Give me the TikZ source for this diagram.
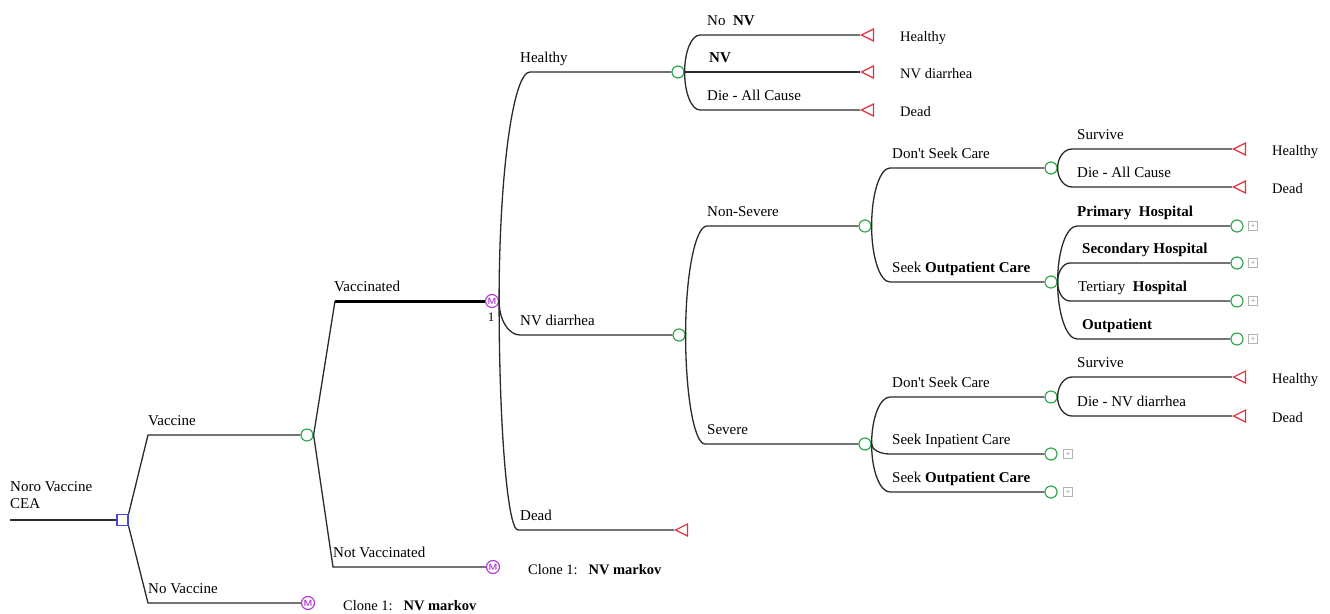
\documentclass[tikz,border=0pt]{standalone}
\usepackage{fontspec}
\setmainfont{Liberation Serif}
\usetikzlibrary{calc,shapes.geometric}
\definecolor{cgreen}{HTML}{35A84F}
\definecolor{cred}{HTML}{E5303C}
\definecolor{cpurple}{HTML}{B040D0}
\definecolor{cblue}{HTML}{4A4ACF}
\definecolor{cline}{HTML}{2A2A2A}
\tikzset{
 br/.style={draw=cline, line width=1.3pt},
 brthick/.style={draw=black, line width=3pt},
 chance/.style={circle, draw=cgreen, line width=1.2pt, fill=white, minimum size=12pt, inner sep=0pt},
 term/.style={isosceles triangle, shape border rotate=180, isosceles triangle stretches, draw=cred, line width=1.2pt, fill=white, minimum width=12pt, minimum height=12pt, inner sep=0pt},
 markov/.style={circle, draw=cpurple, line width=1.2pt, fill=white, minimum size=13pt, inner sep=0pt, text=cpurple, font=\sffamily\bfseries\fontsize{9}{9}\selectfont},
 decision/.style={rectangle, draw=cblue, line width=1.2pt, fill=white, minimum size=11pt, inner sep=0pt},
 plusbox/.style={rectangle, draw=gray!60, line width=0.7pt, minimum size=9pt, inner sep=0pt, text=gray, font=\fontsize{8}{8}\selectfont},
 lbl/.style={anchor=base west, inner sep=0pt, font=\fontsize{15}{18}\selectfont, text=black},
 tlbl/.style={anchor=base west, inner sep=0pt, font=\fontsize{14.5}{17}\selectfont, text=black},
}
\newcommand{\cbranch}[3]{\draw[br] let \p1=(#1), \p2=(#2) in (\p1) .. controls (\x1,{\y1+0.552*(\y2-\y1)}) and ({\x2-0.552*(\x2-\x1)},\y2) .. (\p2) -- (#3);}
\begin{document}
\begin{tikzpicture}[x=1pt,y=-1pt]
\useasboundingbox (0,0) rectangle (1330,613);
% ---------- nodes
\node[decision] (root) at (122.5,520) {};
\node[chance] (vc) at (307,435) {};
\node[markov] (m0) at (308,603) {M};
\node[markov] (mk) at (492,301) {M};
\node[markov] (m1) at (493,567) {M};
\node[chance] (hc) at (678,72) {};
\node[chance] (dc) at (679,335) {};
\node[term,anchor=apex] (tdead) at (674,530) {};
\node[term,anchor=apex] (th1) at (860,35) {};
\node[term,anchor=apex] (th2) at (860,72) {};
\node[term,anchor=apex] (th3) at (860,110) {};
\node[chance] (ns) at (865,226) {};
\node[chance] (sv) at (865,444) {};
\node[chance] (nsd) at (1051,168) {};
\node[chance] (nso) at (1051,282) {};
\node[term,anchor=apex] (ta1) at (1232,149) {};
\node[term,anchor=apex] (ta2) at (1232,187) {};
\node[chance] (h1) at (1237,226) {};
\node[chance] (h2) at (1237,263) {};
\node[chance] (h3) at (1237,301) {};
\node[chance] (h4) at (1237,339) {};
\node[plusbox] (p1) at (1253,226) {+};
\node[plusbox] (p2) at (1253,263) {+};
\node[plusbox] (p3) at (1253,301) {+};
\node[plusbox] (p4) at (1253,339) {+};
\node[chance] (svd) at (1051,397) {};
\node[chance] (svi) at (1051,454) {};
\node[chance] (svo) at (1051,492) {};
\node[plusbox] (p5) at (1068,454) {+};
\node[plusbox] (p6) at (1068,492) {+};
\node[term,anchor=apex] (tb1) at (1232,377) {};
\node[term,anchor=apex] (tb2) at (1232,416) {};
% ---------- bend coordinates
\coordinate (s0) at (10,520);
\coordinate (bv) at (148,435);
\coordinate (bnv) at (148,603);
\coordinate (bvd) at (335,301);
\coordinate (bnvd) at (333,567);
\coordinate (bh) at (530,72);
\coordinate (bd) at (520,335);
\coordinate (bdead) at (518,530);
\coordinate (bh1) at (700,35);
\coordinate (bh3) at (700,110);
\coordinate (bns) at (707,226);
\coordinate (bsv) at (705,444);
\coordinate (bnsd) at (890,168);
\coordinate (bnso) at (890,282);
\coordinate (ba1) at (1072,149);
\coordinate (ba2) at (1072,187);
\coordinate (bh1h) at (1077,226);
\coordinate (bh2h) at (1070,263);
\coordinate (bh3h) at (1070,301);
\coordinate (bh4h) at (1077,339);
\coordinate (bsvd) at (890,397);
\coordinate (bsvi) at (890,454);
\coordinate (bsvo) at (890,492);
\coordinate (bb1) at (1072,377);
\coordinate (bb2) at (1072,416);
% ---------- connectors
\draw[br] (s0) -- (root.west);
\draw[br] (root.north east) -- (bv) -- (vc.west);
\draw[br] (root.south east) -- (bnv) -- (m0.west);
\draw[br] (vc.east) -- (bvd);
\draw[brthick] (bvd) -- (mk.west);
\draw[br] (vc.east) -- (bnvd) -- (m1.west);
\cbranch{mk.east}{bh}{hc.west}
\cbranch{mk.east}{bd}{dc.west}
\cbranch{mk.east}{bdead}{tdead.apex}
\cbranch{hc.east}{bh1}{th1.apex}
\draw[br] (hc.east) -- (th2.apex);
\cbranch{hc.east}{bh3}{th3.apex}
\cbranch{dc.east}{bns}{ns.west}
\cbranch{dc.east}{bsv}{sv.west}
\cbranch{ns.east}{bnsd}{nsd.west}
\cbranch{ns.east}{bnso}{nso.west}
\cbranch{nsd.east}{ba1}{ta1.apex}
\cbranch{nsd.east}{ba2}{ta2.apex}
\cbranch{nso.east}{bh1h}{h1.west}
\cbranch{nso.east}{bh2h}{h2.west}
\cbranch{nso.east}{bh3h}{h3.west}
\cbranch{nso.east}{bh4h}{h4.west}
\cbranch{sv.east}{bsvd}{svd.west}
\cbranch{sv.east}{bsvi}{svi.west}
\cbranch{sv.east}{bsvo}{svo.west}
\cbranch{svd.east}{bb1}{tb1.apex}
\cbranch{svd.east}{bb2}{tb2.apex}
% ---------- labels
\node[anchor=south west, inner sep=0pt, align=left, font=\fontsize{15}{17.5}\selectfont] (lroot) at (10,509) {Noro Vaccine\\CEA};
\node[lbl] (l1) at (148,425.5) {Vaccine};
\node[lbl] (l2) at (148,593.5) {No Vaccine};
\node[lbl] (l3) at (334,291.5) {Vaccinated};
\node[lbl] (l4) at (333,557.5) {Not Vaccinated};
\node[anchor=base, inner sep=0pt, font=\fontsize{13}{15}\selectfont] (lone) at (491,321) {1};
\node[lbl] (l5) at (520,62.5) {Healthy};
\node[lbl] (l6) at (520,325.5) {NV diarrhea};
\node[lbl] (l7) at (520,520.5) {Dead};
\node[lbl] (l8) at (707,25.5) {No\ \ \textbf{NV}};
\node[lbl] (l9) at (709,62.5) {\textbf{NV}};
\node[lbl] (l10) at (707,100.5) {Die - All Cause};
\node[lbl] (l11) at (707,216.5) {Non-Severe};
\node[lbl] (l12) at (707,434.5) {Severe};
\node[lbl] (l13) at (892,158.5) {Don\textquotesingle t Seek Care};
\node[lbl] (l14) at (892,272.5) {Seek \textbf{Outpatient Care}};
\node[lbl] (l15) at (1077,139.5) {Survive};
\node[lbl] (l16) at (1077,177.5) {Die - All Cause};
\node[lbl] (l17) at (1077,216.5) {\textbf{Primary\ \ Hospital}};
\node[lbl] (l18) at (1082,253.5) {\textbf{Secondary Hospital}};
\node[lbl] (l19) at (1078,291.5) {Tertiary\ \ \textbf{Hospital}};
\node[lbl] (l20) at (1082,329.5) {\textbf{Outpatient}};
\node[lbl] (l21) at (892,387.5) {Don\textquotesingle t Seek Care};
\node[lbl] (l22) at (892,444.5) {Seek Inpatient Care};
\node[lbl] (l23) at (892,482.5) {Seek \textbf{Outpatient Care}};
\node[lbl] (l24) at (1077,367.5) {Survive};
\node[lbl] (l25) at (1077,406.5) {Die - NV diarrhea};
% terminal labels
\node[tlbl] (t1) at (900,41.5) {Healthy};
\node[tlbl] (t2) at (900,78.5) {NV diarrhea};
\node[tlbl] (t3) at (900,116.5) {Dead};
\node[tlbl] (t4) at (1272,155.5) {Healthy};
\node[tlbl] (t5) at (1272,193.5) {Dead};
\node[tlbl] (t6) at (1272,383.5) {Healthy};
\node[tlbl] (t7) at (1272,422.5) {Dead};
\node[tlbl] (c1) at (528,574) {Clone 1:\ \ \ \textbf{NV markov}};
\node[tlbl] (c2) at (343,610) {Clone 1:\ \ \ \textbf{NV markov}};
\end{tikzpicture}
\end{document}
